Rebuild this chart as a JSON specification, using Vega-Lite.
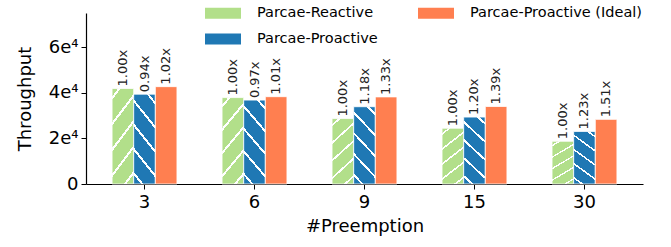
{
  "$schema": "https://vega.github.io/schema/vega-lite/v6.json",
  "width": 557,
  "height": 171,
  "autosize": {"type": "none"},
  "padding": {"left": 86, "top": 13, "right": 28, "bottom": 63},
  "config": {
    "font": "DejaVu Sans",
    "view": {"stroke": null},
    "axis": {
      "domainColor": "#000000",
      "domainWidth": 1.2,
      "tickColor": "#000000",
      "tickSize": 5,
      "tickWidth": 1,
      "labelColor": "#000000",
      "titleColor": "#000000",
      "labelFontSize": 18,
      "titleFontSize": 18,
      "titleFontWeight": "normal",
      "grid": false
    },
    "legend": {"labelColor": "#000000"}
  },
  "data": {
    "values": [
      {"preemption": 3, "system": "Parcae-Reactive", "throughput": 41900, "label": "1.00x"},
      {"preemption": 3, "system": "Parcae-Proactive", "throughput": 39400, "label": "0.94x"},
      {"preemption": 3, "system": "Parcae-Proactive (Ideal)", "throughput": 42700, "label": "1.02x"},
      {"preemption": 6, "system": "Parcae-Reactive", "throughput": 37900, "label": "1.00x"},
      {"preemption": 6, "system": "Parcae-Proactive", "throughput": 36800, "label": "0.97x"},
      {"preemption": 6, "system": "Parcae-Proactive (Ideal)", "throughput": 38300, "label": "1.01x"},
      {"preemption": 9, "system": "Parcae-Reactive", "throughput": 28700, "label": "1.00x"},
      {"preemption": 9, "system": "Parcae-Proactive", "throughput": 33900, "label": "1.18x"},
      {"preemption": 9, "system": "Parcae-Proactive (Ideal)", "throughput": 38200, "label": "1.33x"},
      {"preemption": 15, "system": "Parcae-Reactive", "throughput": 24470, "label": "1.00x"},
      {"preemption": 15, "system": "Parcae-Proactive", "throughput": 29350, "label": "1.20x"},
      {"preemption": 15, "system": "Parcae-Proactive (Ideal)", "throughput": 34000, "label": "1.39x"},
      {"preemption": 30, "system": "Parcae-Reactive", "throughput": 18750, "label": "1.00x"},
      {"preemption": 30, "system": "Parcae-Proactive", "throughput": 23050, "label": "1.23x"},
      {"preemption": 30, "system": "Parcae-Proactive (Ideal)", "throughput": 28350, "label": "1.51x"}
    ]
  },
  "encoding": {
    "x": {
      "field": "preemption",
      "type": "ordinal",
      "sort": [3, 6, 9, 15, 30],
      "scale": {"paddingInner": 0.41, "paddingOuter": 0.237},
      "axis": {"labelAngle": 0, "title": "#Preemption", "labelPadding": 4, "titlePadding": 6}
    },
    "xOffset": {
      "field": "system",
      "type": "nominal",
      "scale": {"domain": ["Parcae-Reactive", "Parcae-Proactive", "Parcae-Proactive (Ideal)"], "paddingInner": 0}
    },
    "y": {
      "field": "throughput",
      "type": "quantitative",
      "scale": {"domain": [0, 75000], "nice": false},
      "axis": {
        "values": [0, 20000, 40000, 60000],
        "labelExpr": "datum.value === 0 ? '0' : (datum.value / 10000) + 'e⁴'",
        "title": "Throughput",
        "labelPadding": 3,
        "titlePadding": 14
      }
    }
  },
  "layer": [
    {
      "mark": {"type": "bar", "stroke": "#ffffff", "strokeWidth": 0.8},
      "encoding": {
        "color": {
          "field": "system",
          "type": "nominal",
          "scale": {
            "domain": ["Parcae-Reactive", "Parcae-Proactive", "Parcae-Proactive (Ideal)"],
            "range": ["#b2df8a", "#1f78b4", "#ff7f50"]
          },
          "legend": {
            "orient": "none",
            "legendX": 125,
            "legendY": -12,
            "columns": 2,
            "direction": "vertical",
            "title": null,
            "symbolType": "M-1.5,-0.46H1.5V0.46H-1.5Z",
            "symbolSize": 576,
            "symbolStrokeWidth": 0,
            "symbolOpacity": 1,
            "labelFontSize": 14.5,
            "labelLimit": 400,
            "labelOffset": 22,
            "rowPadding": 7,
            "columnPadding": 40
          }
        }
      }
    },
    {
      "transform": [{"filter": "datum.system === 'Parcae-Reactive'"}],
      "mark": {
        "type": "bar",
        "fill": {
          "gradient": "linear",
          "x1": 0, "y1": 0, "x2": 0.39, "y2": 1.3,
          "stops": [
            {"offset": 0, "color": "rgba(255,255,255,0)"},
            {"offset": 0.06, "color": "rgba(255,255,255,0)"},
            {"offset": 0.06, "color": "#ffffff"},
            {"offset": 0.085, "color": "#ffffff"},
            {"offset": 0.085, "color": "rgba(255,255,255,0)"},
            {"offset": 0.25, "color": "rgba(255,255,255,0)"},
            {"offset": 0.25, "color": "#ffffff"},
            {"offset": 0.275, "color": "#ffffff"},
            {"offset": 0.275, "color": "rgba(255,255,255,0)"},
            {"offset": 0.44, "color": "rgba(255,255,255,0)"},
            {"offset": 0.44, "color": "#ffffff"},
            {"offset": 0.465, "color": "#ffffff"},
            {"offset": 0.465, "color": "rgba(255,255,255,0)"},
            {"offset": 0.63, "color": "rgba(255,255,255,0)"},
            {"offset": 0.63, "color": "#ffffff"},
            {"offset": 0.655, "color": "#ffffff"},
            {"offset": 0.655, "color": "rgba(255,255,255,0)"},
            {"offset": 0.82, "color": "rgba(255,255,255,0)"},
            {"offset": 0.82, "color": "#ffffff"},
            {"offset": 0.845, "color": "#ffffff"},
            {"offset": 0.845, "color": "rgba(255,255,255,0)"},
            {"offset": 1, "color": "rgba(255,255,255,0)"}
          ]
        }
      }
    },
    {
      "transform": [{"filter": "datum.system === 'Parcae-Proactive'"}],
      "mark": {
        "type": "bar",
        "fill": {
          "gradient": "linear",
          "x1": 1, "y1": 0, "x2": 0.61, "y2": 1.3,
          "stops": [
            {"offset": 0, "color": "rgba(255,255,255,0)"},
            {"offset": 0.06, "color": "rgba(255,255,255,0)"},
            {"offset": 0.06, "color": "#ffffff"},
            {"offset": 0.085, "color": "#ffffff"},
            {"offset": 0.085, "color": "rgba(255,255,255,0)"},
            {"offset": 0.25, "color": "rgba(255,255,255,0)"},
            {"offset": 0.25, "color": "#ffffff"},
            {"offset": 0.275, "color": "#ffffff"},
            {"offset": 0.275, "color": "rgba(255,255,255,0)"},
            {"offset": 0.44, "color": "rgba(255,255,255,0)"},
            {"offset": 0.44, "color": "#ffffff"},
            {"offset": 0.465, "color": "#ffffff"},
            {"offset": 0.465, "color": "rgba(255,255,255,0)"},
            {"offset": 0.63, "color": "rgba(255,255,255,0)"},
            {"offset": 0.63, "color": "#ffffff"},
            {"offset": 0.655, "color": "#ffffff"},
            {"offset": 0.655, "color": "rgba(255,255,255,0)"},
            {"offset": 0.82, "color": "rgba(255,255,255,0)"},
            {"offset": 0.82, "color": "#ffffff"},
            {"offset": 0.845, "color": "#ffffff"},
            {"offset": 0.845, "color": "rgba(255,255,255,0)"},
            {"offset": 1, "color": "rgba(255,255,255,0)"}
          ]
        }
      }
    },
    {
      "mark": {"type": "text", "angle": 270, "align": "left", "baseline": "middle", "dx": 2, "fontSize": 13, "color": "#222222"},
      "encoding": {"text": {"field": "label", "type": "nominal"}}
    }
  ]
}
